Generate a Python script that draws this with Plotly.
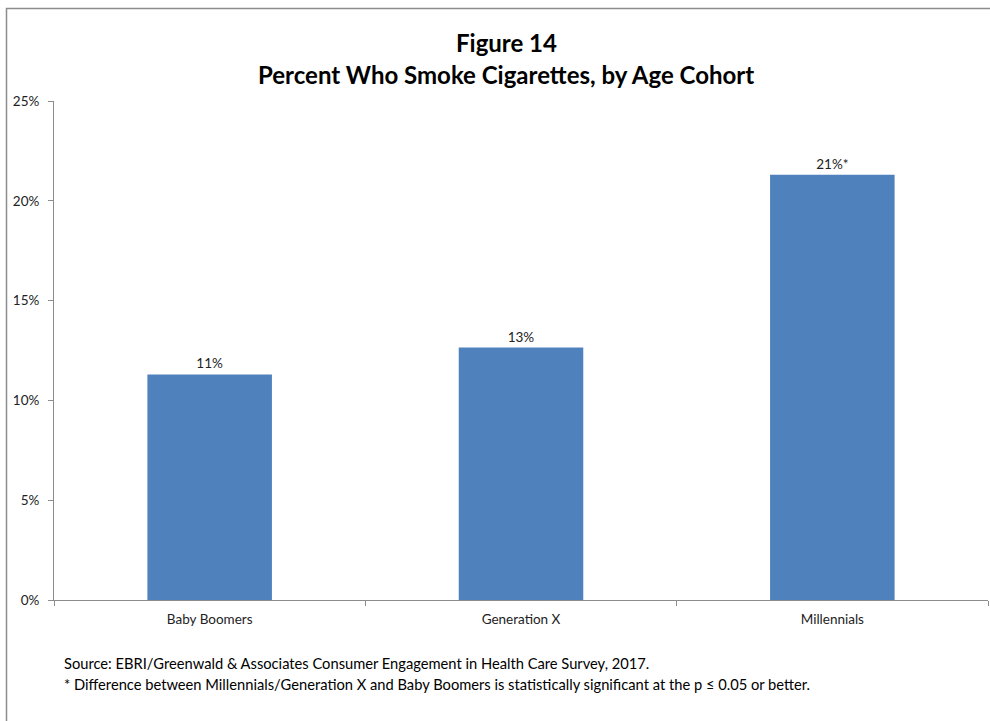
import plotly.graph_objects as go

categories = ["Baby Boomers", "Generation X", "Millennials"]
values = [11.3, 12.65, 21.3]
labels = ["11%", "13%", "21%*"]
y_ticks = [0, 5, 10, 15, 20, 25]
y_tick_text = ["0%", "5%", "10%", "15%", "20%", "25%"]
title_lines = ["Figure 14", "Percent Who Smoke Cigarettes, by Age Cohort"]
notes = [
    "Source: EBRI/Greenwald & Associates Consumer Engagement in Health Care Survey, 2017.",
    "* Difference between Millennials/Generation X and Baby Boomers is statistically significant at the p \u2264 0.05 or better.",
]

W, H = 990, 721
L, R, T, B = 54, 2, 101, 121
FONT = "Lato"

fig = go.Figure()
fig.add_trace(go.Bar(
    x=categories, y=values, text=labels, textposition="outside",
    textfont=dict(family=FONT, size=13.5, color="#222222"),
    marker=dict(color="#4F81BD", line=dict(width=0)),
    width=0.4, cliponaxis=False,
))

pw = W - L - R
ph = H - T - B
def px_x(x):
    return (x - L) / pw
def px_y(y):
    return (H - B - y) / ph

fig.update_layout(
    width=W, height=H,
    margin=dict(l=L, r=R, t=T, b=B),
    paper_bgcolor="white", plot_bgcolor="white",
    showlegend=False,
    font=dict(family=FONT, size=13, color="#222222"),
    xaxis=dict(
        type="category", showgrid=False, showline=True, linecolor="#8c8c8c", linewidth=1,
        ticks="outside", tickson="boundaries", ticklen=5, tickcolor="#8c8c8c",
        tickfont=dict(family=FONT, size=13.5, color="#222222"), ticklabelstandoff=7,
    ),
    yaxis=dict(
        range=[0, 25], tickvals=y_ticks, ticktext=y_tick_text, showgrid=False,
        showline=True, linecolor="#8c8c8c", linewidth=1, ticks="outside", ticklen=5,
        tickcolor="#8c8c8c", tickfont=dict(family=FONT, size=13.5, color="#222222"),
        zeroline=False, ticklabelstandoff=6,
    ),
    bargap=0.6,
)

# frame border
fig.add_shape(type="rect", xref="paper", yref="paper",
              x0=px_x(6.5), x1=px_x(W + 20), y0=px_y(H + 20), y1=px_y(8.5),
              line=dict(color="#8c8c8c", width=1.5), fillcolor="rgba(0,0,0,0)", layer="below")

fig.add_annotation(xref="paper", yref="paper", x=px_x(506), y=px_y(42), xanchor="center", yanchor="middle",
                   text="<b>" + title_lines[0] + "</b>", showarrow=False,
                   font=dict(family=FONT, size=24, color="#000000"))
fig.add_annotation(xref="paper", yref="paper", x=px_x(506), y=px_y(74), xanchor="center", yanchor="middle",
                   text="<b>" + title_lines[1] + "</b>", showarrow=False,
                   font=dict(family=FONT, size=24, color="#000000"))
for i, n in enumerate(notes):
    fig.add_annotation(xref="paper", yref="paper", x=px_x(62), y=px_y(663 + 21 * i), xanchor="left", yanchor="middle",
                       text=n, showarrow=False, font=dict(family=FONT, size=14.7, color="#000000"))

fig.write_html("out.html")
